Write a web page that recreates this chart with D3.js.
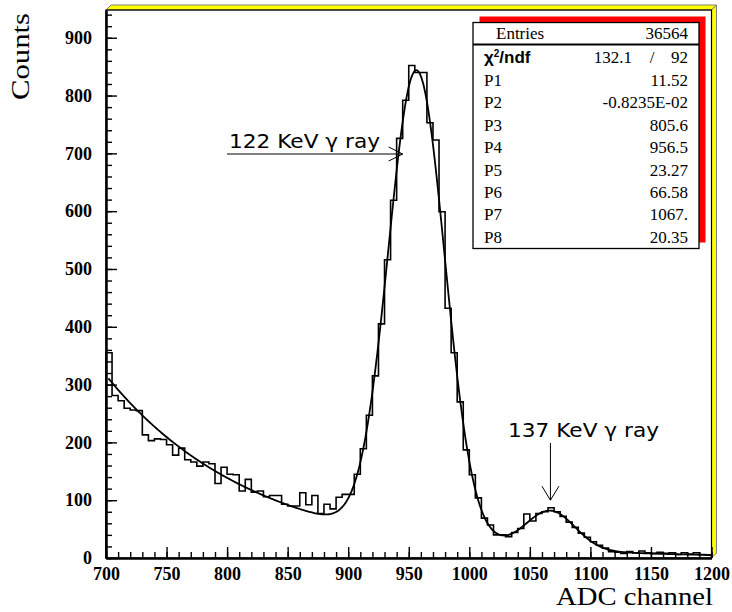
<!DOCTYPE html>
<html>
<head>
<meta charset="utf-8">
<script src="https://cdn.jsdelivr.net/npm/d3@7"></script>
<style>
  html, body { margin: 0; padding: 0; background: #ffffff; }
  svg { display: block; }
</style>
</head>
<body>
<svg id="chart" width="732" height="612"></svg>
<script>
// ---------------- DATA ----------------
const binStart = 700;
const binWidth = 5;
const binCounts = [
  355, 281, 272, 259, 256, 255, 213, 203, 206, 205,
  196, 178, 190, 170, 166, 159, 166, 163, 129, 157,
  145, 144, 116, 136, 114, 116, 106, 108, 108, 93,
  90, 90, 113, 92, 108, 77, 93, 85, 105, 110,
  110, 145, 189, 247, 315, 405, 516, 619, 726, 792,
  852, 840, 840, 753, 723, 599, 432, 355, 270, 187,
  144, 104, 69, 57, 40, 40, 37, 44, 51, 76,
  64, 77, 80, 87, 80, 72, 62, 53, 43, 36,
  28, 22, 17, 11, 10, 8, 11, 9, 12, 9,
  8, 10, 8, 9, 6, 9, 7, 9, 6, 5
];
const xTickValues = [700, 750, 800, 850, 900, 950, 1000, 1050, 1100, 1150, 1200];
const yTickValues = [0, 100, 200, 300, 400, 500, 600, 700, 800, 900];
const xDomain = [700, 1200];
const yDomain = [0, 948];
const fitRange = [702, 1200];
// fit parameters (expo + gaus + gaus), as shown in the stats box
const fitParams = [11.52, -0.8235e-2, 805.6, 956.5, 23.27, 66.58, 1067, 20.35];
const statNames = ["P1", "P2", "P3", "P4", "P5", "P6", "P7", "P8"];
const statTexts = ["11.52", "-0.8235E-02", "805.6", "956.5", "23.27", "66.58", "1067.", "20.35"];
const entriesText = "36564";
const chi2Text = ["132.1", "/", "92"];
const annotations = [
  { text: "122 KeV \u03b3 ray", x: 945, y: 700 },
  { text: "137 KeV \u03b3 ray", x: 1067, y: 100 }
];

// ---------------- LAYOUT ----------------
const svg = d3.select("#chart");
const L = 106, R = 711.5, T = 10, B = 558;
const x = d3.scaleLinear().domain(xDomain).range([L, R]);
const y = d3.scaleLinear().domain(yDomain).range([B, T]);

const serif = "'Liberation Serif', 'Times New Roman', serif";
const sans = "'DejaVu Sans', 'Liberation Sans', sans-serif";

svg.append("rect").attr("width", 732).attr("height", 612).attr("fill", "#fff");

// frame bevel (yellow)
svg.append("polygon")
  .attr("points", `${L},${T} ${L + 5},${T - 5} ${R + 5},${T - 5} ${R},${T}`)
  .attr("fill", "#ffff00").attr("stroke", "#808080").attr("stroke-width", 1);
svg.append("polygon")
  .attr("points", `${R},${T} ${R + 5},${T - 5} ${R + 5},${B - 5} ${R},${B}`)
  .attr("fill", "#ffff00").attr("stroke", "#808080").attr("stroke-width", 1);
svg.append("rect")
  .attr("x", L).attr("y", T).attr("width", R - L).attr("height", B - T)
  .attr("fill", "none").attr("stroke", "#000").attr("stroke-width", 1.2);

// ---------------- AXES ----------------
const yMinor = d3.range(0, yDomain[1], 20);
const xMinor = d3.range(700, 1201, 10);

const yAxisMinor = d3.axisLeft(y).tickValues(yMinor).tickSizeInner(-6).tickSizeOuter(0).tickFormat("");
const yAxis = d3.axisLeft(y).tickValues(yTickValues).tickSizeInner(-11).tickSizeOuter(0).tickPadding(14).tickFormat(d3.format("d"));
const xAxisMinor = d3.axisBottom(x).tickValues(xMinor).tickSizeInner(-6).tickSizeOuter(0).tickFormat("");
const xAxis = d3.axisBottom(x).tickValues(xTickValues).tickSizeInner(-11).tickSizeOuter(0).tickPadding(9).tickFormat(d3.format("d"));

function styleAxis(g) {
  g.select(".domain").attr("stroke", "#000").attr("stroke-width", 2);
  g.selectAll(".tick line").attr("stroke", "#000").attr("stroke-width", 1.4);
  g.selectAll(".tick text")
    .attr("fill", "#000")
    .style("font-family", serif)
    .style("font-weight", "bold")
    .style("font-size", "18px");
}

svg.append("g").attr("transform", `translate(${L},0)`).call(yAxisMinor).call(styleAxis);
svg.append("g").attr("transform", `translate(${L},0)`).call(yAxis).call(styleAxis);
svg.append("g").attr("transform", `translate(0,${B})`).call(xAxisMinor).call(styleAxis);
svg.append("g").attr("transform", `translate(0,${B})`).call(xAxis).call(styleAxis);

// axis titles
svg.append("text")
  .attr("transform", "translate(28.5,13) rotate(-90)")
  .attr("text-anchor", "end")
  .attr("textLength", 87).attr("lengthAdjust", "spacingAndGlyphs")
  .style("font-family", serif).style("font-size", "25px")
  .text("Counts");
svg.append("text")
  .attr("x", 713).attr("y", 605)
  .attr("text-anchor", "end")
  .attr("textLength", 157).attr("lengthAdjust", "spacingAndGlyphs")
  .style("font-family", serif).style("font-size", "26px")
  .text("ADC channel");

// ---------------- HISTOGRAM ----------------
const histPts = [[binStart, 0]];
binCounts.forEach((c, i) => {
  const lo = binStart + i * binWidth;
  histPts.push([lo, c], [lo + binWidth, c]);
});
histPts.push([binStart + binCounts.length * binWidth, 0]);

const line = d3.line().x(d => x(d[0])).y(d => y(d[1]));
svg.append("path")
  .attr("d", line(histPts))
  .attr("fill", "none").attr("stroke", "#000").attr("stroke-width", 1.6)
  .attr("stroke-linejoin", "miter");

// ---------------- FIT CURVE ----------------
function fitFn(v) {
  const p = fitParams;
  const g1 = (v - p[3]) / p[4];
  const g2 = (v - p[6]) / p[7];
  return Math.exp(p[0] + p[1] * v) + p[2] * Math.exp(-0.5 * g1 * g1) + p[5] * Math.exp(-0.5 * g2 * g2);
}
const fitPts = d3.range(fitRange[0], fitRange[1] + 0.001, 1).map(v => [v, fitFn(v)]);
svg.append("path")
  .attr("d", d3.line().x(d => x(d[0])).y(d => y(d[1])).curve(d3.curveMonotoneX)(fitPts))
  .attr("fill", "none").attr("stroke", "#000").attr("stroke-width", 1.8);

// ---------------- ANNOTATIONS ----------------
// 122 KeV: horizontal arrow pointing right to the rising edge
{
  const a = annotations[0];
  const tx = x(a.x);
  const ty = 154;
  svg.append("text")
    .attr("x", 229).attr("y", 148)
    .attr("textLength", 151).attr("lengthAdjust", "spacingAndGlyphs")
    .style("font-family", sans).style("font-size", "20px")
    .text(a.text);
  svg.append("line").attr("x1", 227).attr("y1", ty).attr("x2", tx).attr("y2", ty)
    .attr("stroke", "#000").attr("stroke-width", 1);
  svg.append("path")
    .attr("d", `M${tx - 14},${ty - 7} L${tx},${ty} L${tx - 14},${ty + 7}`)
    .attr("fill", "none").attr("stroke", "#000").attr("stroke-width", 1);
}
// 137 KeV: vertical arrow down to the small peak
{
  const a = annotations[1];
  const tx = x(a.x), tipY = y(a.y);
  svg.append("text")
    .attr("x", 508).attr("y", 437)
    .attr("textLength", 151).attr("lengthAdjust", "spacingAndGlyphs")
    .style("font-family", sans).style("font-size", "20px")
    .text(a.text);
  svg.append("line").attr("x1", tx).attr("y1", 443).attr("x2", tx).attr("y2", tipY)
    .attr("stroke", "#000").attr("stroke-width", 1);
  svg.append("path")
    .attr("d", `M${tx - 8.5},${tipY - 14} L${tx},${tipY} L${tx + 8.5},${tipY - 14}`)
    .attr("fill", "none").attr("stroke", "#000").attr("stroke-width", 1);
}

// ---------------- STATS BOX ----------------
const bx = 473, by = 22.5, bw = 226, bh = 226;
svg.append("rect").attr("x", bx + 6.5).attr("y", by - 6).attr("width", bw).attr("height", bh)
  .attr("fill", "#ff0000");
svg.append("rect").attr("x", bx).attr("y", by).attr("width", bw).attr("height", bh)
  .attr("fill", "#fff").attr("stroke", "#000").attr("stroke-width", 1.3);
svg.append("line").attr("x1", bx).attr("x2", bx + bw).attr("y1", 44.5).attr("y2", 44.5)
  .attr("stroke", "#000").attr("stroke-width", 2);

const rowFont = g => g.style("font-family", serif).style("font-size", "17px").attr("fill", "#000");
svg.append("text").attr("x", 496).attr("y", 39).text("Entries").call(rowFont);
svg.append("text").attr("x", 688).attr("y", 39).attr("text-anchor", "end").text(entriesText).call(rowFont);

// chi2 row
const chi = svg.append("text").attr("x", 484).attr("y", 63)
  .style("font-family", "'Liberation Sans', sans-serif").style("font-weight", "bold").style("font-size", "17px");
chi.append("tspan").text("\u03c7");
chi.append("tspan").attr("dy", -6).style("font-size", "10px").text("2");
chi.append("tspan").attr("dy", 6).text("/ndf");
svg.append("text").attr("x", 632).attr("y", 63).attr("text-anchor", "end").text(chi2Text[0]).call(rowFont);
svg.append("text").attr("x", 652).attr("y", 63).attr("text-anchor", "middle").text(chi2Text[1]).call(rowFont);
svg.append("text").attr("x", 688).attr("y", 63).attr("text-anchor", "end").text(chi2Text[2]).call(rowFont);

statNames.forEach((n, i) => {
  const yy = 86 + i * 22.4;
  svg.append("text").attr("x", 484).attr("y", yy).text(n).call(rowFont);
  svg.append("text").attr("x", 688).attr("y", yy).attr("text-anchor", "end").text(statTexts[i]).call(rowFont);
});
</script>
</body>
</html>
